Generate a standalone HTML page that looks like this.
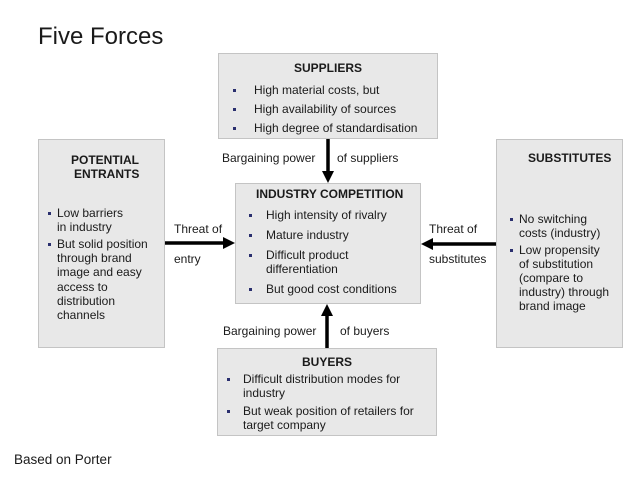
<!DOCTYPE html>
<html><head><style>
body{margin:0;width:638px;height:479px;background:#fff;position:relative;overflow:hidden;font-family:"Liberation Sans",Arial,sans-serif;color:#1a1a1a}
.b{position:absolute;background:#e8e8e8;border:1px solid #c4c4c4;box-sizing:border-box}
.t{position:absolute;font-size:12px;line-height:14px;white-space:nowrap}
.h{font-weight:bold}
.d{position:absolute;width:3px;height:3px;background:#2a2f6e}
svg{position:absolute;left:0;top:0}
</style></head><body>
<div class="t" style="left:38px;top:22px;font-size:24px;line-height:30px">Five Forces</div>
<div class="t" style="left:14px;top:452px;font-size:13.5px;line-height:16px">Based on Porter</div>

<div class="b" style="left:218px;top:53px;width:220px;height:86px"></div>
<div class="b" style="left:235px;top:183px;width:186px;height:121px"></div>
<div class="b" style="left:38px;top:139px;width:127px;height:209px"></div>
<div class="b" style="left:496px;top:139px;width:127px;height:209px"></div>
<div class="b" style="left:217px;top:348px;width:220px;height:88px"></div>

<svg width="638" height="479">
<g fill="#000" stroke="#000" stroke-width="3.5">
<line x1="328" y1="139" x2="328" y2="172"/>
<line x1="327" y1="348" x2="327" y2="315"/>
<line x1="165" y1="243" x2="224" y2="243"/>
<line x1="496" y1="244" x2="432" y2="244"/>
</g>
<g fill="#000">
<polygon points="322,171 334,171 328,183"/>
<polygon points="321,316 333,316 327,304"/>
<polygon points="223,237 223,249 235,243"/>
<polygon points="433,238 433,250 421,244"/>
</g>
</svg>

<div class="t h" style="left:294px;top:61px">SUPPLIERS</div>
<div class="d" style="left:233px;top:89px"></div><div class="t" style="left:254px;top:83px">High material costs, but</div>
<div class="d" style="left:233px;top:108px"></div><div class="t" style="left:254px;top:102px">High availability of sources</div>
<div class="d" style="left:233px;top:127px"></div><div class="t" style="left:254px;top:121px">High degree of standardisation</div>
<div class="t" style="left:222px;top:151px">Bargaining power</div>
<div class="t" style="left:337px;top:151px">of suppliers</div>

<div class="t h" style="left:256px;top:187px">INDUSTRY COMPETITION</div>
<div class="d" style="left:249px;top:214px"></div><div class="t" style="left:266px;top:208px">High intensity of rivalry</div>
<div class="d" style="left:249px;top:234px"></div><div class="t" style="left:266px;top:228px">Mature industry</div>
<div class="d" style="left:249px;top:254px"></div><div class="t" style="left:266px;top:248px">Difficult product</div>
<div class="t" style="left:266px;top:262px">differentiation</div>
<div class="d" style="left:249px;top:288px"></div><div class="t" style="left:266px;top:282px">But good cost conditions</div>

<div class="t h" style="left:71px;top:153px">POTENTIAL</div>
<div class="t h" style="left:74px;top:167px">ENTRANTS</div>
<div class="d" style="left:48px;top:212px"></div><div class="t" style="left:57px;top:206px">Low barriers</div>
<div class="t" style="left:57px;top:220px">in industry</div>
<div class="d" style="left:48px;top:243px"></div><div class="t" style="left:57px;top:237px">But solid position</div>
<div class="t" style="left:57px;top:251px">through brand</div>
<div class="t" style="left:57px;top:265px">image and easy</div>
<div class="t" style="left:57px;top:280px">access to</div>
<div class="t" style="left:57px;top:294px">distribution</div>
<div class="t" style="left:57px;top:308px">channels</div>
<div class="t" style="left:174px;top:222px">Threat of</div>
<div class="t" style="left:174px;top:252px">entry</div>

<div class="t h" style="left:528px;top:151px">SUBSTITUTES</div>
<div class="d" style="left:510px;top:218px"></div><div class="t" style="left:519px;top:212px">No switching</div>
<div class="t" style="left:519px;top:226px">costs (industry)</div>
<div class="d" style="left:510px;top:249px"></div><div class="t" style="left:519px;top:243px">Low propensity</div>
<div class="t" style="left:519px;top:257px">of substitution</div>
<div class="t" style="left:519px;top:271px">(compare to</div>
<div class="t" style="left:519px;top:285px">industry) through</div>
<div class="t" style="left:519px;top:299px">brand image</div>
<div class="t" style="left:429px;top:222px">Threat of</div>
<div class="t" style="left:429px;top:252px">substitutes</div>

<div class="t" style="left:223px;top:324px">Bargaining power</div>
<div class="t" style="left:340px;top:324px">of buyers</div>
<div class="t h" style="left:302px;top:355px">BUYERS</div>
<div class="d" style="left:227px;top:378px"></div><div class="t" style="left:243px;top:372px">Difficult distribution modes for</div>
<div class="t" style="left:243px;top:386px">industry</div>
<div class="d" style="left:227px;top:410px"></div><div class="t" style="left:243px;top:404px">But weak position of retailers for</div>
<div class="t" style="left:243px;top:418px">target company</div>
</body></html>
